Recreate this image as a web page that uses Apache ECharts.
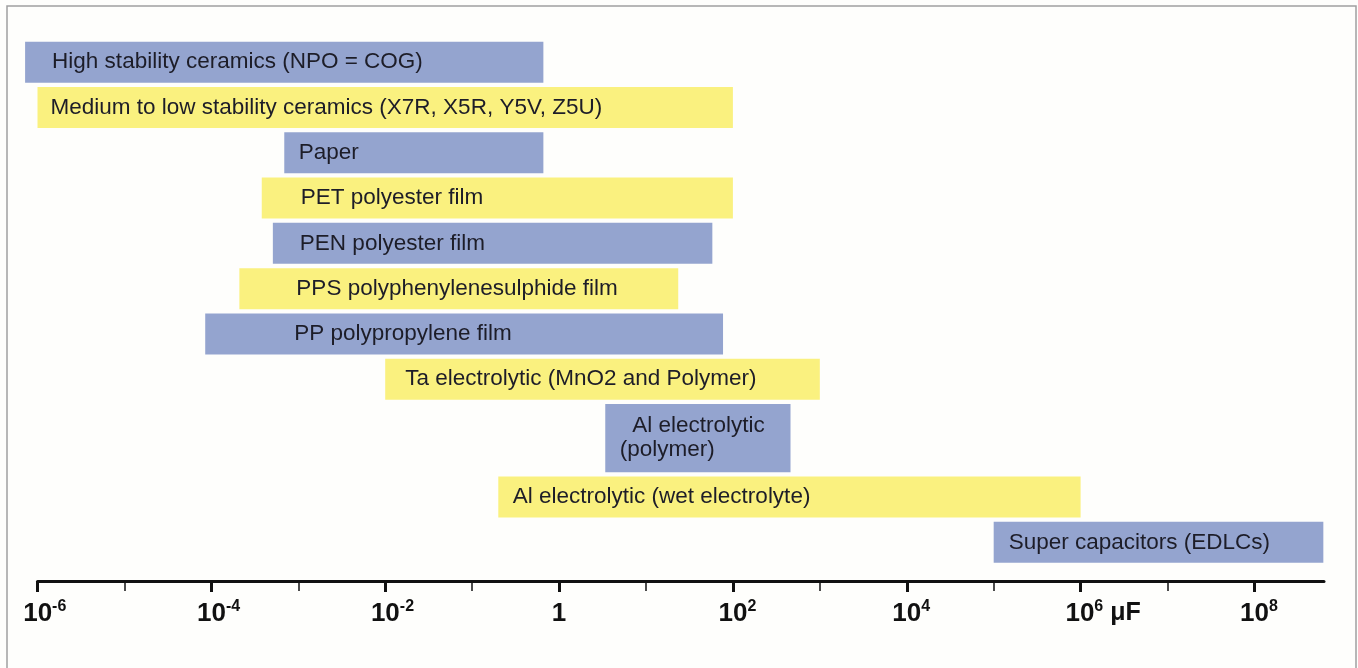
<!DOCTYPE html>
<html><head><meta charset="utf-8">
<script src="https://cdn.jsdelivr.net/npm/echarts@6/dist/echarts.min.js"></script>
<style>html,body{margin:0;padding:0;background:#fefefc}#c{width:1358px;height:668px}</style>
</head><body><div id="c"></div>
<script>
// ---- data ----
const categories = [
  'High stability ceramics (NPO = COG)',
  'Medium to low stability ceramics (X7R, X5R, Y5V, Z5U)',
  'Paper',
  'PET polyester film',
  'PEN polyester film',
  'PPS polyphenylenesulphide film',
  'PP polypropylene film',
  'Ta electrolytic (MnO2 and Polymer)',
  '  Al electrolytic\n(polymer)',
  'Al electrolytic (wet electrolyte)',
  'Super capacitors (EDLCs)'
];
const lowValues  = [7.2e-7, 1e-6, 6.9e-4, 3.8e-4, 5.1e-4, 2.1e-4, 8.5e-5, 0.01, 3.4, 0.2, 1e5];
const highValues = [0.66, 100, 0.66, 100, 58, 23.5, 77, 1000, 460, 1e6, 6.2e8];
const majorTicks = [1e-6, 1e-4, 1e-2, 1, 1e2, 1e4, 1e6, 1e8];
const minorTicks = [1e-5, 1e-3, 1e-1, 10, 1e3, 1e5, 1e7];
const tickBases  = ['10', '10', '10', '1', '10', '10', '10', '10'];
const tickSups   = ['-6', '-4', '-2', '', '2', '4', '6', '8'];
const tickUnits  = ['', '', '', '', '', '', ' μF', ''];
const axisMax = Math.pow(10, 8.8);

// ---- style / layout ----
const BLUE = '#94a4cf', YELLOW = '#faf17f';
const FONT = '"Liberation Sans", Arial, sans-serif';
const labelInset = [27, 13, 14.5, 39, 27, 57, 89, 20, 14.5, 14.5, 15];
const GRID = {left: 37.5, right: 34, top: 39.5, bottom: 103};

// row extents from label line count
const rowStart = [], rowEnd = [];
let acc = 0;
categories.forEach(c => {
  const w = c.split('\n').length > 1 ? 1.6 : 1;
  rowStart.push(acc); acc += w; rowEnd.push(acc);
});
const totalRows = acc;

const seriesData = categories.map((c, i) => [lowValues[i], highValues[i], rowStart[i], rowEnd[i], i]);

function tickFmt(v) {
  const i = majorTicks.findIndex(t => Math.abs(Math.log10(t) - Math.log10(v)) < 1e-6);
  if (i < 0) return '';
  if (!tickSups[i]) return '{b|' + tickBases[i] + '}';
  if (tickUnits[i]) return '{p3|\u00a0}{b|' + tickBases[i] + '}{s|' + tickSups[i] + '}{u|' + tickUnits[i] + '}';
  const pad = tickSups[i].length > 1 ? 'p2' : 'p1';
  return '{' + pad + '|\u00a0}{b|' + tickBases[i] + '}{s|' + tickSups[i] + '}';
}

const chart = echarts.init(document.getElementById('c'));
chart.setOption({
  backgroundColor: '#fefefc',
  animation: false,
  graphic: [{
    type: 'rect', shape: {x: 7, y: 6, width: 1349, height: 720},
    style: {fill: 'none', stroke: '#a0a0a0', lineWidth: 1.5}, silent: true, z: 100
  }],
  grid: [Object.assign({}, GRID), Object.assign({}, GRID)],
  xAxis: [{
    gridIndex: 0,
    type: 'log', logBase: 10, min: 1e-6, max: axisMax, position: 'bottom', offset: 16,
    axisLine: {show: false, onZero: false},
    axisTick: {show: true, customValues: majorTicks, length: 11, lineStyle: {color: '#111', width: 3}},
    axisLabel: {
      show: true, customValues: majorTicks, margin: 18, formatter: tickFmt,
      rich: {
        b: {fontFamily: FONT, fontWeight: 'bold', fontSize: 26, lineHeight: 29, color: '#111'},
        s: {fontFamily: FONT, fontWeight: 'bold', fontSize: 16, lineHeight: 17, verticalAlign: 'top', color: '#111'},
        u: {fontFamily: FONT, fontWeight: 'bold', fontSize: 25, lineHeight: 29, color: '#111'},
        p1: {width: 9, fontSize: 1},
        p2: {width: 14.5, fontSize: 1},
        p3: {width: 45, fontSize: 1}
      }
    },
    splitLine: {show: false}, minorTick: {show: false}
  }, {
    gridIndex: 1,
    type: 'log', logBase: 10, min: 1e-6, max: axisMax, position: 'bottom', offset: 16,
    axisLine: {show: true, onZero: false, lineStyle: {color: '#111', width: 3}},
    axisTick: {show: true, customValues: minorTicks.concat([axisMax]), length: 10, lineStyle: {color: '#111', width: 1.5}},
    axisLabel: {show: false}, splitLine: {show: false}, minorTick: {show: false}
  }],
  yAxis: [
    {gridIndex: 0, type: 'value', min: 0, max: totalRows, inverse: true, show: false, splitLine: {show: false}},
    {gridIndex: 1, type: 'value', min: 0, max: 1, show: false, splitLine: {show: false}}
  ],
  series: [{
    type: 'custom',
    xAxisIndex: 0, yAxisIndex: 0,
    clip: false,
    encode: {x: [0, 1], y: [2, 3]},
    data: seriesData,
    renderItem: function (params, api) {
      const idx = api.value(4);
      const p0 = api.coord([api.value(0), api.value(2)]);
      const p1 = api.coord([api.value(1), api.value(3)]);
      const gap = 4.3;
      const x = p0[0], w = p1[0] - p0[0];
      const y = p0[1] + gap / 2, h = p1[1] - p0[1] - gap;
      return {
        type: 'group',
        children: [
          {type: 'rect', shape: {x: x, y: y, width: w, height: h}, style: {fill: idx % 2 === 0 ? BLUE : YELLOW}},
          {type: 'text', style: {
            text: categories[idx], x: x + labelInset[idx], y: y + h / 2,
            align: 'left', verticalAlign: 'middle',
            fontFamily: FONT, fontSize: 22.5, lineHeight: 24,
            fill: '#1d1d28'
          }}
        ]
      };
    }
  }]
});
</script></body></html>
